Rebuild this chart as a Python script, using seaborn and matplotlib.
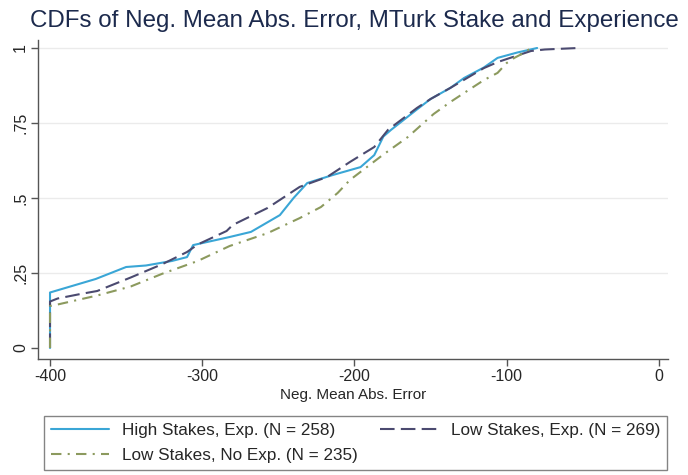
import matplotlib
matplotlib.use("Agg")
import matplotlib.pyplot as plt
import seaborn as sns
import pandas as pd

# ---- data ----
high_x = [-400, -400, -390, -370, -350, -337, -320, -310, -306, -282, -268, -249, -240, -231, -214, -196, -187, -181, -176, -159, -150, -137, -128, -115, -106, -93, -80]
high_y = [0.0, 0.185, 0.20, 0.23, 0.27, 0.275, 0.29, 0.303, 0.343, 0.37, 0.387, 0.443, 0.50, 0.55, 0.577, 0.603, 0.643, 0.705, 0.727, 0.795, 0.83, 0.867, 0.90, 0.935, 0.967, 0.985, 1.0]

lowexp_x = [-400, -400, -395, -380, -369, -347, -326, -310, -303, -284, -280, -257, -236, -218, -203, -187, -178, -159, -150, -137, -115, -106, -93, -84, -75, -53]
lowexp_y = [0.0, 0.155, 0.165, 0.18, 0.19, 0.235, 0.28, 0.32, 0.345, 0.39, 0.41, 0.467, 0.537, 0.57, 0.62, 0.67, 0.727, 0.80, 0.83, 0.867, 0.933, 0.953, 0.975, 0.99, 0.995, 1.0]

noexp_x = [-400, -400, -395, -369, -347, -326, -303, -282, -257, -236, -222, -211, -203, -181, -165, -148, -137, -128, -115, -106, -100, -95, -89, -84]
noexp_y = [0.0, 0.14, 0.145, 0.175, 0.205, 0.248, 0.29, 0.34, 0.383, 0.433, 0.47, 0.517, 0.56, 0.645, 0.703, 0.78, 0.82, 0.85, 0.893, 0.917, 0.95, 0.967, 0.983, 1.0]

labels = ["High Stakes, Exp. (N = 258)",
          "Low Stakes, Exp. (N = 269)",
          "Low Stakes, No Exp. (N = 235)"]
x_ticks = [-400, -300, -200, -100, 0]
x_ticklabels = ["-400", "-300", "-200", "-100", "0"]
y_ticks = [0, 0.25, 0.5, 0.75, 1]
y_ticklabels = ["0", ".25", ".5", ".75", "1"]

sns.set_theme(style="white")
plt.rcParams["font.family"] = ["Liberation Sans", "DejaVu Sans"]

fig = plt.figure(figsize=(6.88, 4.75), dpi=100)
ax = fig.add_axes([0.055, 0.244, 0.916, 0.672])

for yv in y_ticks[1:]:
    ax.axhline(yv, color="#ebebeb", lw=1.0, zorder=0)

colors = ["#3aa6d6", "#4b4a70", "#8c9a5e"]
sns.lineplot(x=high_x, y=high_y, ax=ax, sort=False, estimator=None,
             color=colors[0], lw=1.5, label=labels[0])
sns.lineplot(x=lowexp_x, y=lowexp_y, ax=ax, sort=False, estimator=None,
             color=colors[1], lw=1.5, label=labels[1], dashes=False)
sns.lineplot(x=noexp_x, y=noexp_y, ax=ax, sort=False, estimator=None,
             color=colors[2], lw=1.5, label=labels[2], dashes=False)
data_lines = [l for l in ax.get_lines() if len(l.get_xdata()) > 2]
data_lines[1].set_dashes([7, 3])
data_lines[2].set_dashes([5, 3, 1, 3])

ax.set_xlim(-408, 6)
ax.set_ylim(-0.037, 1.027)
ax.set_xticks(x_ticks)
ax.set_xticklabels(x_ticklabels, fontsize=11.5)
ax.set_yticks(y_ticks)
ax.set_yticklabels(y_ticklabels, fontsize=11.5, rotation=90, va="center")
ax.tick_params(axis="both", direction="out", length=5, width=1, color="#555555",
               bottom=True, left=True, pad=2)
for s in ["top", "right"]:
    ax.spines[s].set_visible(False)
for s in ["left", "bottom"]:
    ax.spines[s].set_color("#555555")
    ax.spines[s].set_linewidth(1.0)
ax.set_xlabel("Neg. Mean Abs. Error", fontsize=11, labelpad=3)
ax.set_ylabel("")

fig.suptitle("CDFs of Neg. Mean Abs. Error, MTurk Stake and Experience",
             x=0.515, y=0.978, fontsize=17.4, color="#1c2a4d", va="top")

ax.get_legend().remove()
h = data_lines
leg = fig.legend([h[0], h[2], h[1]], [labels[0], labels[2], labels[1]],
                 ncol=2, loc="upper left", bbox_to_anchor=(44 / 688, (475 - 416) / 475),
                 borderaxespad=0, frameon=True, fancybox=False, fontsize=12.3,
                 handlelength=3.4, handletextpad=0.75, borderpad=0.4,
                 labelspacing=0.6, columnspacing=1.3)
leg.get_frame().set_edgecolor("#666666")
leg.get_frame().set_linewidth(1.0)

fig.savefig("out.png", dpi=100, facecolor="white")
